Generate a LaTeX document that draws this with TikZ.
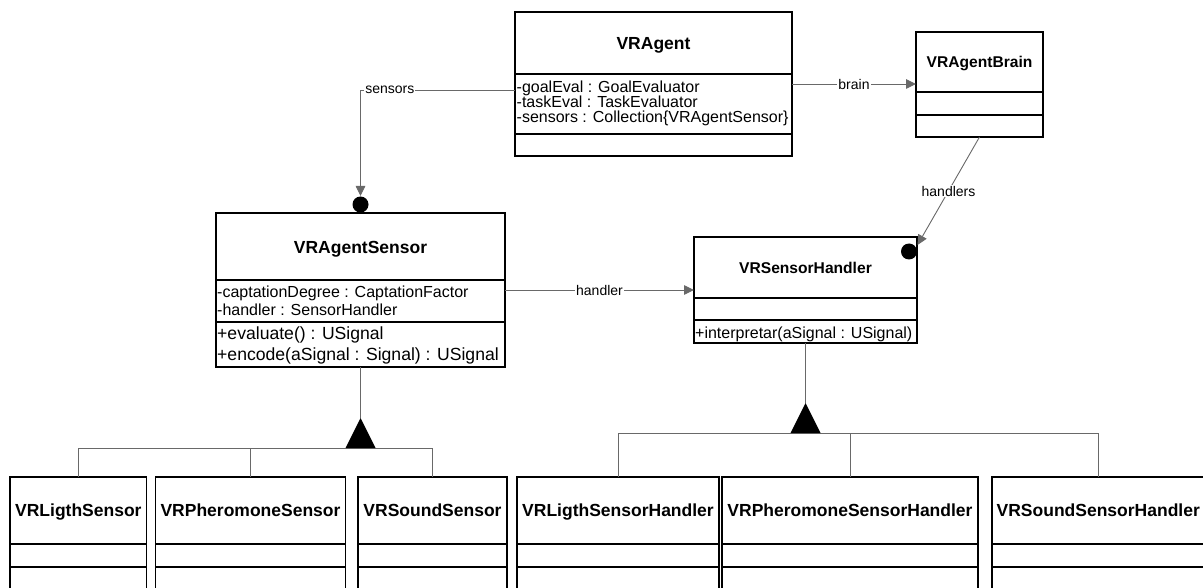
\documentclass[tikz,border=0pt]{standalone}
\usepackage{fontspec}
\setmainfont{Liberation Sans}
\usetikzlibrary{arrows.meta}
\definecolor{lin}{RGB}{105,105,105}
\tikzset{
  cls/.style={draw=black, line width=1.2pt, fill=white, rectangle, inner sep=0pt, outer sep=0pt},
  div/.style={draw=black, line width=1.2pt},
  conn/.style={draw=lin, line width=0.9pt},
  nm/.style={font=\fontsize{17.5}{20}\selectfont\bfseries, inner sep=0pt, anchor=base},
  nms/.style={font=\fontsize{15.6}{18}\selectfont\bfseries, inner sep=0pt, anchor=base},
  attr/.style={font=\fontsize{16}{18}\selectfont, inner sep=0pt, anchor=base west},
  oper/.style={font=\fontsize{17.6}{20}\selectfont, inner sep=0pt, anchor=base west},
  lbl/.style={font=\fontsize{14}{16}\selectfont, fill=white, inner sep=1pt},
  tiphead/.style={-{Triangle[length=10pt,width=9.5pt]}}
}
\begin{document}
\begin{tikzpicture}[x=1pt,y=-1pt]
\useasboundingbox (0,0) rectangle (1203,588);
\fill[white] (0,0) rectangle (1203,588);
\clip (0,0) rectangle (1203,588);

% ---- VRAgent
\node[cls, minimum width=277pt, minimum height=144pt] (agent) at (653.5,84) {};
\draw[div] (515,74) -- (792,74);
\draw[div] (515,134) -- (792,134);
\node[nm] (agentN) at (653.5,49.5) {VRAgent};
\node[attr] (agentA1) at (516.5,92.3) {-goalEval : GoalEvaluator};
\node[attr] (agentA2) at (516.5,107.3) {-taskEval : TaskEvaluator};
\node[attr] (agentA3) at (516.5,122.3) {-sensors : Collection\{VRAgentSensor\}};

% ---- VRAgentBrain
\node[cls, minimum width=127pt, minimum height=105pt] (brain) at (979.5,84.5) {};
\draw[div] (916,92) -- (1043,92);
\draw[div] (916,115) -- (1043,115);
\node[nms] (brainN) at (979.5,67.3) {VRAgentBrain};

% ---- VRAgentSensor
\node[cls, minimum width=289pt, minimum height=154pt] (sensor) at (360.5,290) {};
\draw[div] (216,280) -- (505,280);
\draw[div] (216,322) -- (505,322);
\node[nm] (sensorN) at (360.5,253.3) {VRAgentSensor};
\node[attr] (sensorA1) at (217,297.5) {-captationDegree : CaptationFactor};
\node[attr] (sensorA2) at (217,315.5) {-handler : SensorHandler};
\node[oper] (sensorO1) at (217,339) {+evaluate() : USignal};
\node[oper] (sensorO2) at (217,360.5) {+encode(aSignal : Signal) : USignal};

% ---- VRSensorHandler
\node[cls, minimum width=223pt, minimum height=106pt] (handler) at (805.5,290) {};
\draw[div] (694,298) -- (917,298);
\draw[div] (694,320) -- (917,320);
\node[nms] (handlerN) at (805.5,273.3) {VRSensorHandler};
\node[attr] (handlerO1) at (695,338.3) {+interpretar(aSignal : USignal)};

% ---- bottom classes (run past the lower edge)
\node[cls, minimum width=136.7pt, minimum height=123pt] (light) at (78.35,538.5) {};
\node[cls, minimum width=190.4pt, minimum height=123pt] (pher) at (250.5,538.5) {};
\node[cls, minimum width=149pt, minimum height=123pt] (sound) at (432.5,538.5) {};
\node[cls, minimum width=202pt, minimum height=123pt] (lightH) at (618,538.5) {};
\node[cls, minimum width=256pt, minimum height=123pt] (pherH) at (850,538.5) {};
\node[cls, minimum width=212.5pt, minimum height=123pt] (soundH) at (1098.25,538.5) {};
\foreach \a/\b in {10/146.7, 155.3/345.7, 358/507, 517/719, 722/978, 992/1204.5}{
  \draw[div] (\a,544) -- (\b,544);
  \draw[div] (\a,567) -- (\b,567);
}
\node[nm] (lightN) at (78.35,516.7) {VRLigthSensor};
\node[nm] (pherN) at (250.5,516.7) {VRPheromoneSensor};
\node[nm] (soundN) at (432.5,516.7) {VRSoundSensor};
\node[nm] (lightHN) at (618,516.7) {VRLigthSensorHandler};
\node[nm] (pherHN) at (850,516.7) {VRPheromoneSensorHandler};
\node[nm] (soundHN) at (1098.25,516.7) {VRSoundSensorHandler};

% ---- associations
\coordinate (sTurn) at (360.5,90);
\coordinate (sTip) at (360.5,196);
\draw[conn, tiphead] ([yshift=-6pt]agent.west) -- node[lbl, pos=0.81] {sensors} (sTurn) -- (sTip);
\fill (360.5,204.5) circle (8pt);

\draw[conn, tiphead] (agent.east) -- node[lbl] {brain} (brain.west |- agent.east);

\draw[conn, tiphead] (sensor.east) -- node[lbl] {handler} (handler.west);

\coordinate (hTip) at (917.5,245);
\draw[conn, tiphead] (brain.south) -- node[lbl] {handlers} (hTip);
\fill (909,251.5) circle (8pt);

% ---- generalisations
\coordinate (apex1) at (360.5,418);
\coordinate (bar1) at (360.5,448);
\draw[conn] (sensor.south) -- (apex1);
\draw[conn] (light.north) |- (sound.north |- bar1) -- (sound.north);
\draw[conn] (pher.north) -- (pher.north |- bar1);
\fill (apex1) -- ++(-15,30) -- ++(30,0) -- cycle;

\coordinate (apex2) at (805.5,403);
\coordinate (bar2) at (805.5,433);
\draw[conn] (handler.south) -- (apex2);
\draw[conn] (lightH.north) |- (soundH.north |- bar2) -- (soundH.north);
\draw[conn] (pherH.north) -- (pherH.north |- bar2);
\fill (apex2) -- ++(-15,30) -- ++(30,0) -- cycle;
\end{tikzpicture}
\end{document}
